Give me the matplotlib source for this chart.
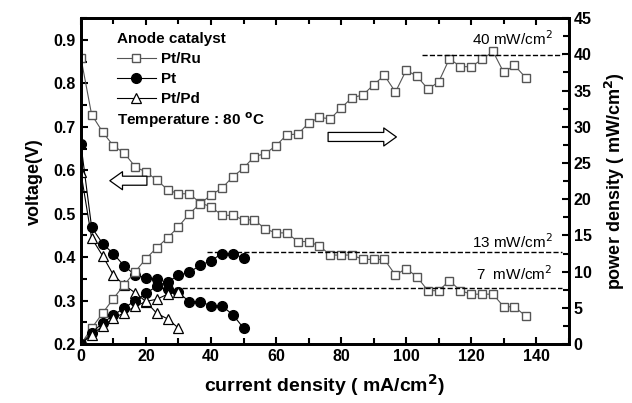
import numpy as np
import matplotlib.pyplot as plt
from matplotlib.ticker import MultipleLocator

plt.rcParams['font.family'] = ['Liberation Sans', 'DejaVu Sans']

# corriente (mA/cm2)
cur_ru = [0, 3.3, 6.7, 10.0, 13.3, 16.7, 20.0, 23.3, 26.7, 30.0, 33.3, 36.7, 40.0, 43.3,
          46.7, 50.0, 53.3, 56.7, 60.0, 63.3, 66.7, 70.0, 73.3, 76.7, 80.0, 83.3, 86.7,
          90.0, 93.3, 96.7, 100.0, 103.3, 106.7, 110.0, 113.3, 116.7, 120.0, 123.3,
          126.7, 130.0, 133.3, 136.7]
cur_pt = [0, 3.3, 6.7, 10.0, 13.3, 16.7, 20.0, 23.3, 26.7, 30.0, 33.3, 36.7, 40.0, 43.3,
          46.7, 50.0]
cur_pd = [0, 3.3, 6.7, 10.0, 13.3, 16.7, 20.0, 23.3, 26.7, 30.0]

# voltaje (V)
v_ru = [0.859, 0.728, 0.688, 0.656, 0.640, 0.608, 0.596, 0.578, 0.555, 0.546, 0.546,
        0.525, 0.516, 0.497, 0.496, 0.486, 0.486, 0.465, 0.456, 0.456, 0.436, 0.436,
        0.426, 0.405, 0.405, 0.405, 0.395, 0.395, 0.395, 0.359, 0.374, 0.355, 0.323,
        0.323, 0.346, 0.323, 0.315, 0.315, 0.315, 0.286, 0.286, 0.265]
v_pt = [0.66, 0.469, 0.431, 0.408, 0.380, 0.359, 0.353, 0.350, 0.328, 0.319, 0.298,
        0.298, 0.288, 0.288, 0.268, 0.237]
v_pd = [0.595, 0.444, 0.403, 0.359, 0.336, 0.318, 0.298, 0.271, 0.258, 0.237]

# densidad de potencia (mW/cm2)
p_ru = [0, 2.2, 4.3, 6.3, 8.2, 10.0, 11.8, 13.3, 14.7, 16.2, 18.0, 19.4, 20.6, 21.5,
        23.1, 24.3, 25.9, 26.3, 27.4, 28.9, 29.0, 30.5, 31.3, 31.1, 32.6, 34.0, 34.4,
        35.8, 37.1, 34.8, 37.8, 37.0, 35.2, 36.2, 39.4, 38.3, 38.3, 39.3, 40.4, 37.5,
        38.5, 36.8]
p_pt = [0, 1.6, 2.9, 4.0, 5.0, 6.0, 7.0, 8.0, 8.6, 9.5, 9.9, 10.9, 11.5, 12.5, 12.5, 11.9]
p_pd = [0, 1.3, 2.5, 3.55, 4.35, 5.2, 5.9, 6.2, 6.9, 7.2]

# lineas de potencia maxima: (valor, inicio x, etiqueta, y etiqueta)
peaks = [(39.9, 105, '40 mW/cm$^2$', 42.2),
         (12.7, 38.8, '13 mW/cm$^2$', 14.1),
         (7.7, 24.3, '7  mW/cm$^2$', 9.8)]

fig = plt.figure(figsize=(6.32, 4.03), dpi=100)
ax = fig.add_axes([0.128, 0.146, 0.772, 0.809])
ax2 = ax.twinx()

gris = '#555555'
ax.plot(cur_ru, v_ru, '-s', color=gris, lw=0.8, ms=6, mfc='white', mec=gris, mew=1.0,
        label='Pt/Ru')
ax.plot(cur_pt, v_pt, '-o', color='black', lw=0.8, ms=7, mfc='black', mec='black',
        label='Pt')
ax.plot(cur_pd, v_pd, '-^', color='black', lw=0.8, ms=7.5, mfc='white', mec='black', mew=0.9,
        label='Pt/Pd')

ax2.plot(cur_ru, p_ru, '-s', color=gris, lw=0.8, ms=6, mfc='white', mec=gris, mew=1.0)
ax2.plot(cur_pt, p_pt, '-o', color='black', lw=0.8, ms=7, mfc='black', mec='black')
ax2.plot(cur_pd, p_pd, '-^', color='black', lw=0.8, ms=7.5, mfc='white', mec='black', mew=0.9)

for val, x0, txt, ytxt in peaks:
    ax2.plot([x0, 148], [val, val], '--', color='black', lw=1.0)
    ax2.text(145, ytxt, txt, ha='right', va='center', fontsize=11)

# flechas
flecha = dict(arrowstyle='simple,head_length=0.7,head_width=1.0,tail_width=0.5',
              fc='white', ec='black', lw=0.9, shrinkA=0, shrinkB=0, mutation_scale=13)
ax.annotate('', xy=(8.9, 0.576), xytext=(20.3, 0.576), arrowprops=flecha)
ax2.annotate('', xy=(97, 28.6), xytext=(76, 28.6), arrowprops=flecha)

ax.set_xlim(0, 150)
ax.set_ylim(0.2, 0.95)
ax2.set_ylim(0, 45)
ax.set_xticks(range(0, 141, 20))
ax.xaxis.set_minor_locator(MultipleLocator(10))
ax.yaxis.set_major_locator(MultipleLocator(0.1))
ax.yaxis.set_minor_locator(MultipleLocator(0.05))
ax2.yaxis.set_major_locator(MultipleLocator(5))
ax2.yaxis.set_minor_locator(MultipleLocator(2.5))

ax.tick_params(which='both', direction='in', top=True, width=1.5, labelsize=11.5)
ax.tick_params(which='major', length=5)
ax.tick_params(which='minor', length=4)
ax2.tick_params(which='both', direction='in', width=1.5, labelsize=11.5)
ax2.tick_params(which='major', length=5)
ax2.tick_params(which='minor', length=4)
for a in (ax, ax2):
    for s in a.spines.values():
        s.set_linewidth(2)
    for lab in a.get_xticklabels() + a.get_yticklabels():
        lab.set_fontweight('bold')

ax.set_xlabel('current density ( mA/cm$^{\\mathbf{2}}$)', fontsize=14, fontweight='bold',
              labelpad=6)
ax.set_ylabel('voltage(V)', fontsize=13, fontweight='bold', labelpad=8)
ax2.set_ylabel('power density ( mW/cm$^{\\mathbf{2}}$)', fontsize=13, fontweight='bold',
               labelpad=8)

leg = ax.legend(loc='upper left', bbox_to_anchor=(0.045, 1.0), frameon=False,
                title='Anode catalyst', alignment='left', numpoints=1,
                handlelength=2.6, handletextpad=0.3, labelspacing=0.4,
                prop={'weight': 'bold', 'size': 11})
leg.get_title().set_fontweight('bold')
leg.get_title().set_fontsize(11)
ax.text(0.074, 0.687, 'Temperature : 80 $^\\mathbf{o}$C', transform=ax.transAxes,
        fontsize=11, fontweight='bold', va='center', ha='left')

fig.savefig('out.png', dpi=100)
